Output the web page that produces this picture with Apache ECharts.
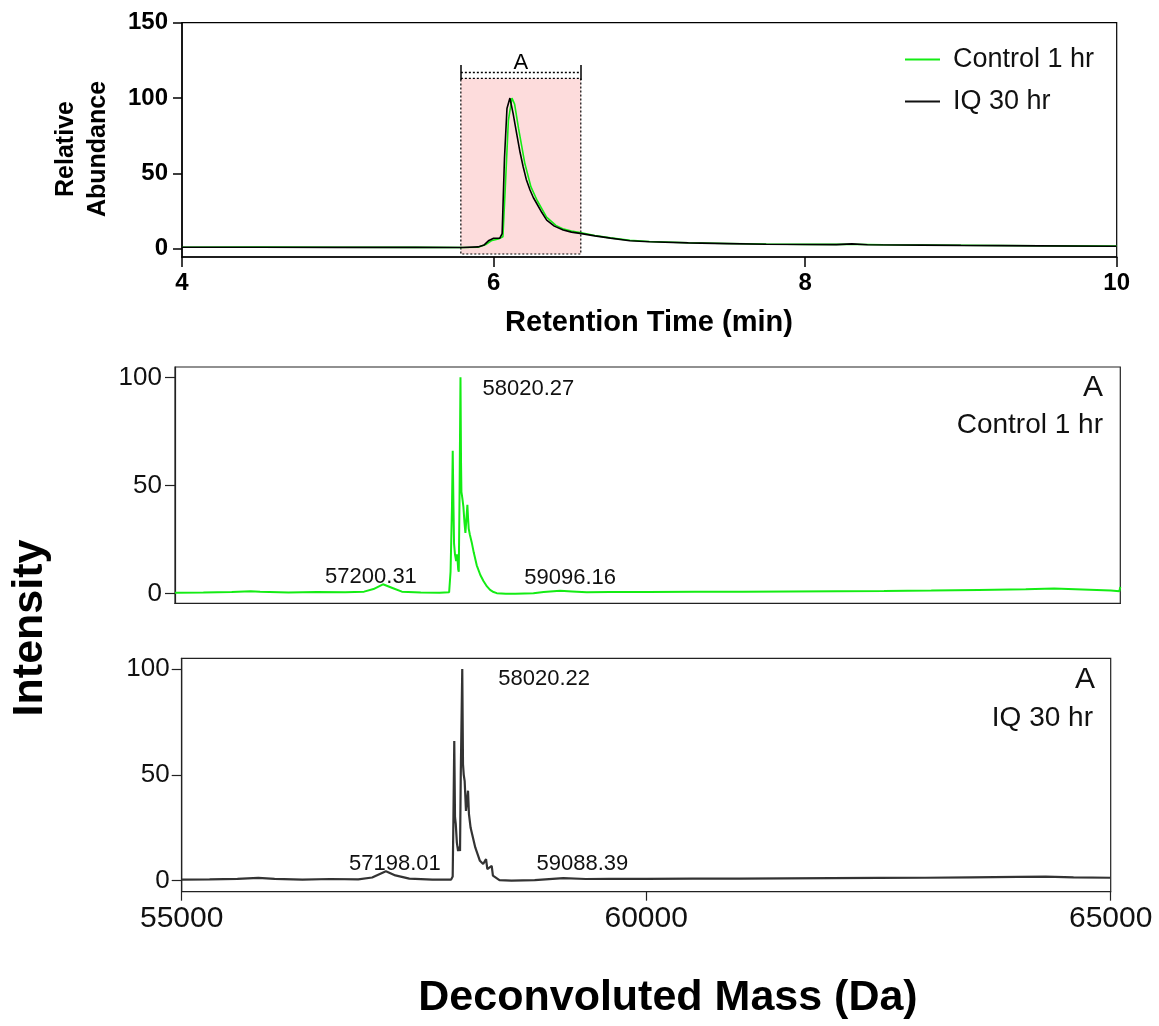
<!DOCTYPE html>
<html>
<head>
<meta charset="utf-8">
<script src="https://cdn.jsdelivr.net/npm/echarts@6/dist/echarts.min.js"></script>
<style>
html,body{margin:0;padding:0;background:#fff;}
#chart{width:1159px;height:1026px;}
</style>
</head>
<body>
<div id="chart"></div>
<script>
// ---------- Data ----------
// Top: chromatogram (retention time in min, relative abundance)
const ctrlTime  = [4.0,4.5,5.0,5.5,5.8,5.9,5.95,5.99,6.03,6.06,6.075,6.095,6.118,6.135,6.16,6.2,6.24,6.28,6.34,6.4,6.45,6.5,6.555,6.65,6.75,6.875,7.0,7.25,7.5,7.75,8.0,8.3,8.5,9.0,9.5,10.0];
const ctrlAbund = [1.0,1.1,1.0,0.9,0.8,1.0,2.8,5.5,6.5,8,40,85,100,96,80,57,41,32,21,15.5,13,11.8,10.8,8.8,7.2,5.6,4.8,4.0,3.5,3.1,2.9,3.0,2.6,2.3,2.0,1.7];
const iqTime  = [4.0,4.5,5.0,5.5,5.8,5.9,5.94,5.97,6.0,6.04,6.055,6.07,6.086,6.105,6.125,6.148,6.17,6.19,6.21,6.234,6.255,6.277,6.31,6.341,6.39,6.447,6.5,6.555,6.65,6.75,6.875,7.0,7.25,7.5,7.75,8.0,8.2,8.3,8.4,8.75,9.0,9.5,10.0];
const iqAbund = [1.0,1.0,0.9,0.9,0.8,1.2,2.5,5.5,6.9,7.0,10,60,93,100,90,76.6,64,54.4,46,39,34,30,24,19,15,12.4,11,10.2,8.5,7,5.3,4.6,3.9,3.4,3.0,2.8,2.7,3.2,2.6,2.4,2.2,1.9,1.6];
const rtTicks = [4,6,8,10];
const abundTicks = [0,50,100,150];
// Integration region "A"
const regionA = {start:5.79, end:6.56, top:113, bottom:-3.5, bracket:117, tickLow:112, tickHigh:122};

// Middle: deconvoluted spectrum, Control 1 hr
const ctrlMass = [55000,55300,55600,55800,55900,56200,56500,56800,57000,57100,57200,57300,57400,57600,57800,57900,57915,57930,57938,57946,57952,57962,57974,57982,57988,57996,58002,58010,58020,58026,58030,58040,58051,58062,58072,58082,58093,58100,58107,58120,58139,58160,58192,58230,58263,58300,58333,58370,58404,58500,58600,58792,58900,59074,59200,59356,59600,60000,60500,61000,61500,62000,62500,63000,63500,64000,64300,64600,64900,64990,65000];
const ctrlInt  = [0.3,0.4,0.6,1.0,0.7,0.4,0.6,0.5,0.8,2.0,4.2,2.5,0.8,0.4,0.3,0.5,10,40,66,40,23,18,15,18,16,11,10,45,100,60,47,44,40,33,28,34,41,35,30,27,23.6,19,13,8.5,5.7,3.2,1.6,0.6,0.1,-0.2,-0.2,0.0,0.6,1.2,0.9,0.5,0.6,0.6,0.7,0.8,0.9,1.0,1.1,1.3,1.6,1.9,2.2,1.8,1.3,1.0,3.0];
// Bottom: deconvoluted spectrum, IQ 30 hr
const iqMass = [55000,55300,55600,55825,56000,56300,56600,56900,57050,57198,57300,57450,57700,57900,57917,57925,57934,57942,57950,57962,57975,57985,57996,58004,58020,58028,58036,58046,58060,58082,58092,58110,58160,58210,58245,58265,58276,58290,58310,58337,58350,58420,58550,58800,59108,59350,59600,60000,60500,61000,61500,62000,62500,63000,63500,64000,64300,64600,65000];
const iqInt  = [0.5,0.6,0.9,1.3,0.9,0.5,0.8,0.6,1.5,4.5,2.5,1.0,0.5,0.5,2,30,66,30,26.8,18,14,16,14,50,100,55,50,47,33,42.5,31.5,25,15.7,9.4,7.9,7,10.2,5.5,4.7,7,2.4,0.3,0.0,0.3,1.2,0.8,0.9,0.9,1.0,1.0,1.1,1.2,1.3,1.4,1.6,1.8,1.9,1.6,1.4];
const massTicks = [55000,60000,65000];
const intTicks = [0,50,100];
// Peak annotations
const ctrlPeaks = [{mass:58020, label:'58020.27'},{mass:57200, label:'57200.31'},{mass:59074, label:'59096.16'}];
const iqPeaks   = [{mass:58020, label:'58020.22'},{mass:57198, label:'57198.01'},{mass:59108, label:'59088.39'}];

function pairs(xs, ys){ return xs.map((x,i)=>[x, ys[i]]); }
function lookup(xs, ys, x){ return ys[xs.indexOf(x)]; }
const plain = v => String(v);

const FONT = '"Liberation Sans", Arial, Helvetica, sans-serif';
const GREEN = '#14ec14';

const chart = echarts.init(document.getElementById('chart'), null, {renderer:'canvas'});

const peakLabelStyle = (offset, pos) => ({
  show:true, position:pos, offset:offset, fontFamily:FONT, fontSize:22, color:'#111',
  formatter: p => p.name
});

function peakPoints(peaks, xs, ys, specs){
  return peaks.map((p,i)=>({
    name:p.label, coord:[p.mass, lookup(xs, ys, p.mass)],
    symbol:'circle', symbolSize:0.01, itemStyle:{color:'transparent'},
    label: peakLabelStyle(specs[i].offset, specs[i].pos)
  }));
}

const option = {
  backgroundColor:'#fff',
  animation:false,
  textStyle:{fontFamily:FONT},
  legend:{
    orient:'vertical', left:900, top:41, itemWidth:35, itemHeight:2, itemGap:15,
    data:[{name:'Control 1 hr', icon:'rect'},{name:'IQ 30 hr', icon:'rect'}],
    textStyle:{fontFamily:FONT, fontSize:27, color:'#111', padding:[0,0,0,8]}
  },
  grid:[
    {left:182, top:22.7, width:934.7, height:234.3, show:true, borderColor:'#000', borderWidth:1.2, outerBoundsMode:'none'},
    {left:175, top:367, width:945.3, height:236.3, show:true, borderColor:'#222', borderWidth:1.2, outerBoundsMode:'none'},
    {left:181.7, top:658.3, width:929, height:233.4, show:true, borderColor:'#222', borderWidth:1.2, outerBoundsMode:'none'}
  ],
  xAxis:[
    {type:'value', gridIndex:0, min:4, max:10, interval:2,
     axisLine:{show:true, onZero:false, lineStyle:{color:'#000', width:1.5}},
     axisTick:{show:true, length:10, lineStyle:{color:'#000', width:1.5}},
     axisLabel:{fontFamily:FONT, fontSize:24, fontWeight:'bold', color:'#000', margin:14, customValues:rtTicks, formatter:plain},
     splitLine:{show:false}},
    {type:'value', gridIndex:1, min:55000, max:65000,
     axisLine:{show:true, onZero:false, lineStyle:{color:'#222', width:1.2}},
     axisTick:{show:false}, axisLabel:{show:false}, splitLine:{show:false}},
    {type:'value', gridIndex:2, min:55000, max:65000, interval:5000,
     axisLine:{show:true, onZero:false, lineStyle:{color:'#222', width:1.2}},
     axisTick:{show:true, length:9, lineStyle:{color:'#222', width:1.2}},
     axisLabel:{fontFamily:FONT, fontSize:30, color:'#111', margin:12, customValues:massTicks, formatter:plain},
     splitLine:{show:false}}
  ],
  yAxis:[
    {type:'value', gridIndex:0, min:-5.5, max:150,
     axisLine:{show:true, onZero:false, lineStyle:{color:'#000', width:1.5}},
     axisTick:{show:true, length:9, customValues:abundTicks, lineStyle:{color:'#000', width:1.5}},
     axisLabel:{fontFamily:FONT, fontSize:24, fontWeight:'bold', color:'#000', margin:14, customValues:abundTicks, formatter:plain},
     splitLine:{show:false}},
    {type:'value', gridIndex:1, min:-4.6, max:104.8,
     axisLine:{show:true, onZero:false, lineStyle:{color:'#222', width:1.2}},
     axisTick:{show:true, length:10, customValues:intTicks, lineStyle:{color:'#222', width:1.2}},
     axisLabel:{fontFamily:FONT, fontSize:26, color:'#111', margin:13, customValues:intTicks, formatter:plain},
     splitLine:{show:false}},
    {type:'value', gridIndex:2, min:-5.2, max:105.05,
     axisLine:{show:true, onZero:false, lineStyle:{color:'#222', width:1.2}},
     axisTick:{show:true, length:10, customValues:intTicks, lineStyle:{color:'#222', width:1.2}},
     axisLabel:{fontFamily:FONT, fontSize:26, color:'#111', margin:12, customValues:intTicks, formatter:plain},
     splitLine:{show:false}}
  ],
  series:[
    {type:'line', name:'regionA', xAxisIndex:0, yAxisIndex:0, data:[], z:1, silent:true,
     markArea:{silent:true, itemStyle:{color:'#fddcdc', borderColor:'#000', borderWidth:1.2, borderType:[2,2]},
       data:[[{coord:[regionA.start, regionA.top]},{coord:[regionA.end, regionA.bottom]}]]},
     markLine:{silent:true, symbol:'none', animation:false,
       data:[
         [{coord:[regionA.start, regionA.bracket], lineStyle:{type:[2,2], color:'#000', width:1.3},
           label:{show:true, position:'middle', formatter:'A', fontFamily:FONT, fontSize:22, color:'#000', distance:-2}},
          {coord:[regionA.end, regionA.bracket]}],
         [{coord:[regionA.start, regionA.tickLow], lineStyle:{type:'solid', color:'#000', width:1.5}, label:{show:false}},
          {coord:[regionA.start, regionA.tickHigh]}],
         [{coord:[regionA.end, regionA.tickLow], lineStyle:{type:'solid', color:'#000', width:1.5}, label:{show:false}},
          {coord:[regionA.end, regionA.tickHigh]}]
       ]}
    },
    {type:'line', name:'Control 1 hr', xAxisIndex:0, yAxisIndex:0, data:pairs(ctrlTime, ctrlAbund),
     symbol:'none', z:3, lineStyle:{color:GREEN, width:1.6}, itemStyle:{color:GREEN}},
    {type:'line', name:'IQ 30 hr', xAxisIndex:0, yAxisIndex:0, data:pairs(iqTime, iqAbund),
     symbol:'none', z:4, lineStyle:{color:'#000', width:1.6}, itemStyle:{color:'#111'}},
    {type:'line', name:'ctrlSpec', xAxisIndex:1, yAxisIndex:1, data:pairs(ctrlMass, ctrlInt),
     symbol:'none', z:3, lineStyle:{color:GREEN, width:2}, itemStyle:{color:GREEN},
     markPoint:{silent:true, animation:false,
       data:peakPoints(ctrlPeaks, ctrlMass, ctrlInt, [
         {pos:'right', offset:[17,12]}, {pos:'top', offset:[-12,9]}, {pos:'top', offset:[10,3]}])}
    },
    {type:'line', name:'iqSpec', xAxisIndex:2, yAxisIndex:2, data:pairs(iqMass, iqInt),
     symbol:'none', z:3, lineStyle:{color:'#333', width:2.2}, itemStyle:{color:'#333'},
     markPoint:{silent:true, animation:false,
       data:peakPoints(iqPeaks, iqMass, iqInt, [
         {pos:'right', offset:[31,10]}, {pos:'top', offset:[9,9]}, {pos:'top', offset:[19,2]}])}
    }
  ],
  graphic:[
    {type:'text', x:82, y:149, rotation:Math.PI/2,
     style:{text:'Relative\nAbundance', fontFamily:FONT, fontSize:25, fontWeight:'bold', fill:'#000', align:'center', verticalAlign:'middle', lineHeight:32}},
    {type:'text', x:649, y:323,
     style:{text:'Retention Time (min)', fontFamily:FONT, fontSize:29, fontWeight:'bold', fill:'#000', align:'center', verticalAlign:'middle'}},
    {type:'text', x:1103, y:388,
     style:{text:'A', fontFamily:FONT, fontSize:30, fill:'#111', align:'right', verticalAlign:'middle'}},
    {type:'text', x:1103, y:425,
     style:{text:'Control 1 hr', fontFamily:FONT, fontSize:28, fill:'#111', align:'right', verticalAlign:'middle'}},
    {type:'text', x:1095, y:680,
     style:{text:'A', fontFamily:FONT, fontSize:30, fill:'#111', align:'right', verticalAlign:'middle'}},
    {type:'text', x:1093, y:718,
     style:{text:'IQ 30 hr', fontFamily:FONT, fontSize:28, fill:'#111', align:'right', verticalAlign:'middle'}},
    {type:'text', x:30, y:628, rotation:Math.PI/2,
     style:{text:'Intensity', fontFamily:FONT, fontSize:43, fontWeight:'bold', fill:'#000', align:'center', verticalAlign:'middle'}},
    {type:'text', x:668, y:998,
     style:{text:'Deconvoluted Mass (Da)', fontFamily:FONT, fontSize:43, fontWeight:'bold', fill:'#000', align:'center', verticalAlign:'middle'}}
  ]
};
chart.setOption(option);
</script>
</body>
</html>
